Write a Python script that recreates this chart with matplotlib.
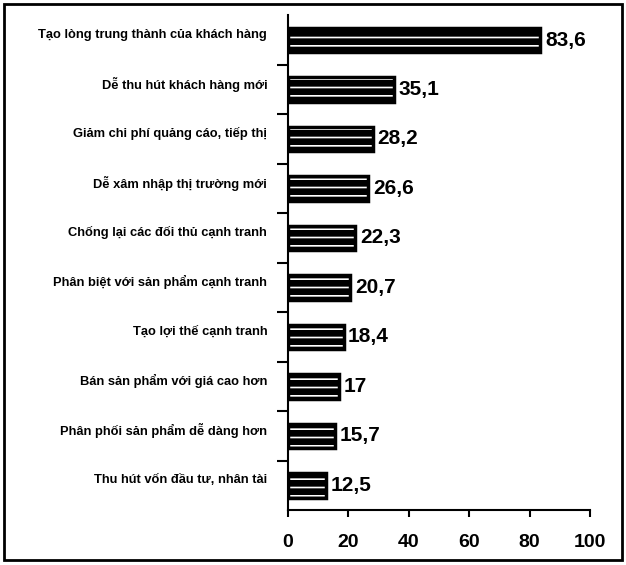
import matplotlib.pyplot as plt
import matplotlib.transforms as mtransforms
from matplotlib.patches import Rectangle
import numpy as np

plt.rcParams['font.family'] = ['Liberation Sans Narrow', 'Liberation Sans', 'DejaVu Sans']
plt.rcParams['hatch.linewidth'] = 1.2

categories = ["Tạo lòng trung thành của khách hàng",
              "Dễ thu hút khách hàng mới",
              "Giảm chi phí quảng cáo, tiếp thị",
              "Dễ xâm nhập thị trường mới",
              "Chống lại các đối thủ cạnh tranh",
              "Phân biệt với sản phẩm cạnh tranh",
              "Tạo lợi thế cạnh tranh",
              "Bán sản phẩm với giá cao hơn",
              "Phân phối sản phẩm dễ dàng hơn",
              "Thu hút vốn đầu tư, nhân tài"]
values = [83.6, 35.1, 28.2, 26.6, 22.3, 20.7, 18.4, 17, 15.7, 12.5]
value_labels = ["83,6", "35,1", "28,2", "26,6", "22,3", "20,7", "18,4", "17", "15,7", "12,5"]

fig = plt.figure(figsize=(6.26, 5.65), dpi=100)
ax = fig.add_axes([0.46, 0.097, 0.4825, 0.876])

y = np.arange(len(categories))
# black bars with white brick-like hatching
ax.barh(y, values, height=0.5, color='black', edgecolor='white', hatch='--', linewidth=0)
ax.barh(y, values, height=0.5, fill=False, edgecolor='black', linewidth=2.5)

for yi, v, lab in zip(y, values, value_labels):
    ax.text(v + 1.5, yi, lab, va='center', ha='left', fontsize=15, fontweight='bold')

ax.set_ylim(len(categories) - 0.5, -0.5)
ax.set_xlim(0, 100)
ax.set_yticks(y)
ax.set_yticklabels(categories, fontsize=9.3, fontweight='bold')
ax.tick_params(axis='y', which='major', length=0, pad=15)
# labels sit a little above the bar centres in the original
shift = mtransforms.ScaledTranslation(0, 5 / 72, fig.dpi_scale_trans)
for t in ax.get_yticklabels():
    t.set_transform(t.get_transform() + shift)
ax.set_yticks(np.arange(0.5, len(categories) - 0.5, 1), minor=True)
ax.tick_params(axis='y', which='minor', length=8, width=1.5, direction='out')

ax.set_xticks([0, 20, 40, 60, 80, 100])
ax.tick_params(axis='x', length=5, width=1.5, direction='out', pad=12, labelsize=14)
for t in ax.get_xticklabels():
    t.set_fontweight('bold')

ax.spines['top'].set_visible(False)
ax.spines['right'].set_visible(False)
ax.spines['left'].set_linewidth(1.5)
ax.spines['bottom'].set_linewidth(1.5)

fig.patches.append(Rectangle((0.006, 0.008), 0.988, 0.985, transform=fig.transFigure,
                             fill=False, edgecolor='black', linewidth=2))

fig.savefig('out.png', dpi=100)
